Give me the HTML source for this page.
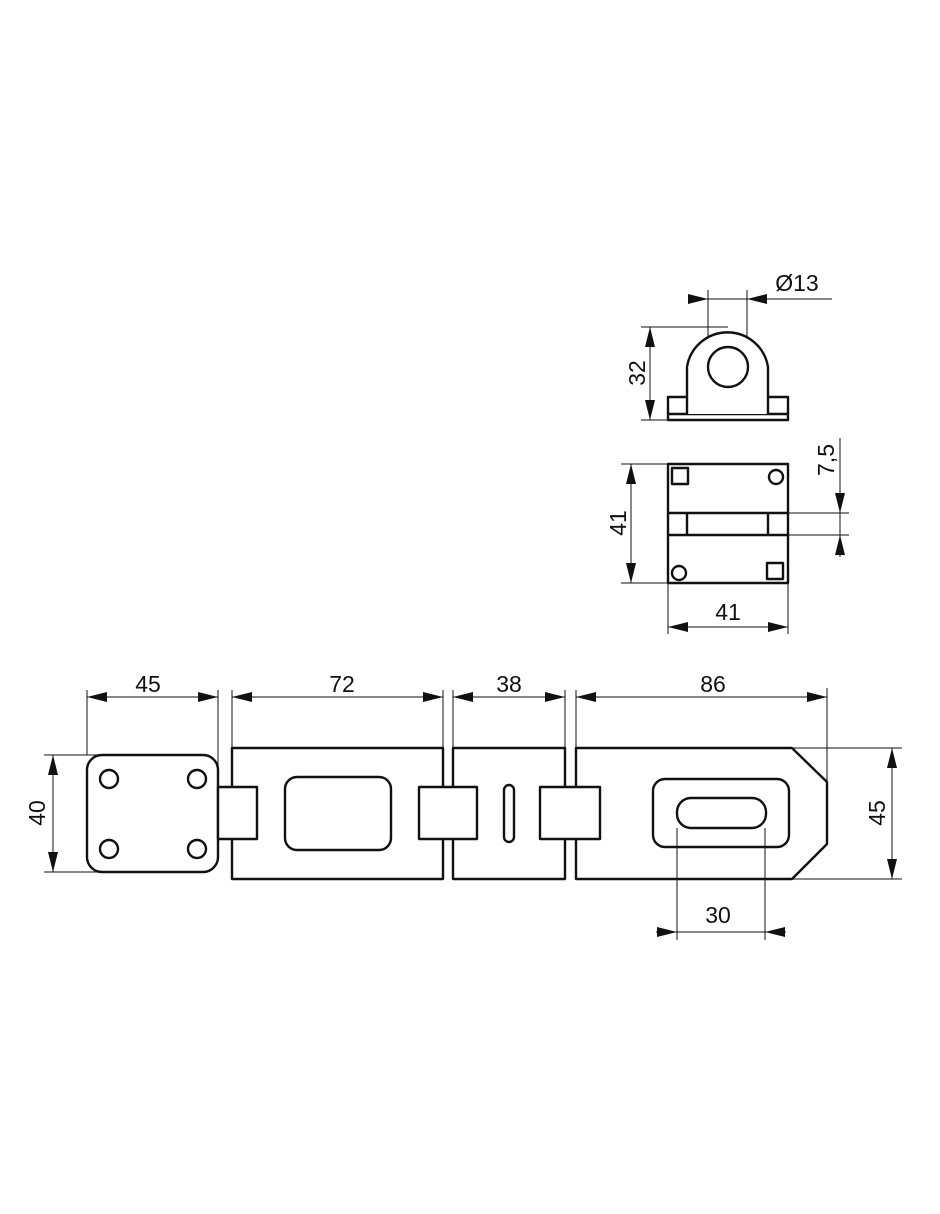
<!DOCTYPE html>
<html><head><meta charset="utf-8"><style>
html,body{margin:0;padding:0;background:#fff;}
svg{display:block;}
text{font-family:"Liberation Sans",sans-serif;font-size:23px;fill:#111;}
</style></head><body>
<svg width="940" height="1214" viewBox="0 0 940 1214" xmlns="http://www.w3.org/2000/svg">
<defs>
<marker id="a" viewBox="0 0 20 10" refX="20" refY="5" markerWidth="20" markerHeight="10" markerUnits="userSpaceOnUse" orient="auto-start-reverse"><path d="M0,0 L20,5 L0,10 z" fill="#111"/></marker>
</defs>
<g fill="none" stroke="#111" stroke-width="1">
<line x1="87" y1="690" x2="87" y2="755"/><line x1="218" y1="690" x2="218" y2="787"/>
<line x1="232" y1="690" x2="232" y2="748"/><line x1="443" y1="690" x2="443" y2="748"/>
<line x1="453" y1="690" x2="453" y2="748"/><line x1="565" y1="690" x2="565" y2="748"/>
<line x1="576" y1="690" x2="576" y2="748"/><line x1="827" y1="688" x2="827" y2="782"/>
<line x1="44" y1="755" x2="100" y2="755"/><line x1="44" y1="872" x2="100" y2="872"/>
<line x1="792" y1="748" x2="902" y2="748"/><line x1="792" y1="879" x2="902" y2="879"/>
<line x1="677" y1="828" x2="677" y2="940"/><line x1="765" y1="828" x2="765" y2="940"/>
<line x1="87" y1="697" x2="218" y2="697" marker-start="url(#a)" marker-end="url(#a)"/>
<line x1="232" y1="697" x2="443" y2="697" marker-start="url(#a)" marker-end="url(#a)"/>
<line x1="453" y1="697" x2="565" y2="697" marker-start="url(#a)" marker-end="url(#a)"/>
<line x1="576" y1="697" x2="827" y2="697" marker-start="url(#a)" marker-end="url(#a)"/>
<line x1="53" y1="755" x2="53" y2="872" marker-start="url(#a)" marker-end="url(#a)"/>
<line x1="892" y1="748" x2="892" y2="879" marker-start="url(#a)" marker-end="url(#a)"/>
<line x1="656" y1="932" x2="677" y2="932" marker-end="url(#a)"/>
<line x1="677" y1="932" x2="765" y2="932"/>
<line x1="786" y1="932" x2="765" y2="932" marker-end="url(#a)"/>
<line x1="708" y1="290" x2="708" y2="362"/><line x1="747" y1="290" x2="747" y2="362"/>
<line x1="688" y1="299" x2="708" y2="299" marker-end="url(#a)"/>
<line x1="708" y1="299" x2="747" y2="299"/>
<line x1="767" y1="299" x2="747" y2="299" marker-end="url(#a)"/>
<line x1="747" y1="299" x2="832" y2="299"/>
<line x1="641" y1="327" x2="728" y2="327"/><line x1="641" y1="420" x2="668" y2="420"/>
<line x1="650" y1="327" x2="650" y2="420" marker-start="url(#a)" marker-end="url(#a)"/>
<line x1="621" y1="464" x2="668" y2="464"/><line x1="621" y1="583" x2="668" y2="583"/>
<line x1="631" y1="464" x2="631" y2="583" marker-start="url(#a)" marker-end="url(#a)"/>
<line x1="668" y1="583" x2="668" y2="634"/><line x1="788" y1="583" x2="788" y2="634"/>
<line x1="668" y1="627" x2="788" y2="627" marker-start="url(#a)" marker-end="url(#a)"/>
<line x1="788" y1="513" x2="849" y2="513"/><line x1="788" y1="535" x2="849" y2="535"/>
<line x1="840" y1="438" x2="840" y2="513" marker-end="url(#a)"/>
<line x1="840" y1="513" x2="840" y2="535"/>
<line x1="840" y1="557" x2="840" y2="535" marker-end="url(#a)"/>
</g>
<g fill="none" stroke="#111" stroke-width="2.4" stroke-linejoin="round">
<rect x="87" y="755" width="131" height="117" rx="15"/>
<circle cx="109" cy="779" r="9"/><circle cx="197" cy="779" r="9"/>
<circle cx="109" cy="849" r="9"/><circle cx="197" cy="849" r="9"/>
<polyline points="232,787 232,748 443,748 443,787"/>
<polyline points="232,839 232,879 443,879 443,839"/>
<rect x="285" y="777" width="106" height="73" rx="12"/>
<rect x="218" y="787" width="39" height="52" fill="#fff"/>
<polyline points="453,787 453,748 565,748 565,787"/>
<polyline points="453,839 453,879 565,879 565,839"/>
<rect x="419" y="787" width="58" height="52"/>
<rect x="504" y="785" width="10" height="57" rx="5"/>
<rect x="540" y="787" width="60" height="52"/>
<polyline points="576,787 576,748 792,748 827,782 827,844 792,879 576,879 576,839"/>
<rect x="653" y="779" width="136" height="68" rx="12"/>
<rect x="677" y="798" width="89" height="30" rx="14"/>
<rect x="668" y="397" width="120" height="23"/>
<line x1="668" y1="414" x2="788" y2="414"/>
<path d="M687,414 L687,367 A41,41 0 0 1 768,367 L768,414" fill="#fff"/>
<circle cx="728" cy="367" r="20"/>
<rect x="668" y="464" width="120" height="119"/>
<line x1="668" y1="513" x2="788" y2="513"/><line x1="668" y1="535" x2="788" y2="535"/>
<line x1="687" y1="513" x2="687" y2="535"/><line x1="768" y1="513" x2="768" y2="535"/>
<rect x="672" y="468" width="16" height="16"/>
<rect x="767" y="563" width="16" height="16"/>
<circle cx="776" cy="477" r="7"/><circle cx="679" cy="573" r="7"/>
</g>
<g text-anchor="middle">
<text x="148" y="692">45</text>
<text x="342" y="692">72</text>
<text x="509" y="692">38</text>
<text x="713" y="692">86</text>
<text x="718" y="923">30</text>
<text x="728" y="620">41</text>
<text x="797" y="291">Ø13</text>
<text transform="translate(45,813) rotate(-90)">40</text>
<text transform="translate(885,813) rotate(-90)">45</text>
<text transform="translate(645,373) rotate(-90)">32</text>
<text transform="translate(626,523) rotate(-90)">41</text>
<text transform="translate(834,460) rotate(-90)">7,5</text>
</g>
</svg>
</body></html>
